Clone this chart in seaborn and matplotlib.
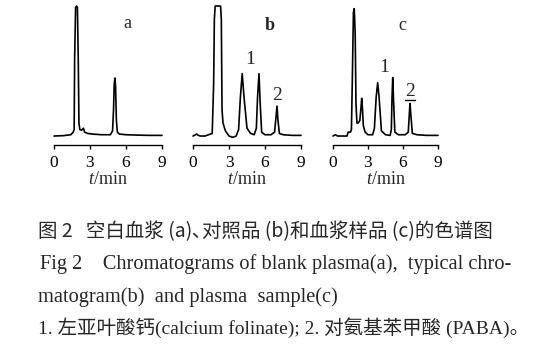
import matplotlib
matplotlib.use("Agg")
import matplotlib.pyplot as plt
from matplotlib.lines import Line2D
import seaborn as sns
import pandas as pd

# ---- data (time in min, signal in arbitrary units) ----
t_a = [0, 0.8, 1.4, 1.5, 1.6, 1.68, 1.72, 1.8, 1.88, 1.95, 2.02, 2.08, 2.15, 2.3, 2.45, 2.55, 2.8,
       3.2, 4.0, 4.7, 4.88, 4.96, 5.02, 5.08, 5.13, 5.2, 5.28, 5.45, 6.0, 7.0, 8.0, 9.0]
y_a = [0, 0.3, 1, 2, 3, 5, 60, 99, 100, 99, 60, 10, 5, 4.5, 6, 3, 2,
       1.5, 1, 1, 4, 20, 40, 44.6, 38, 12, 3, 1.5, 1, 0.7, 0.5, 0.5]

t_b = [0, 0.3, 0.45, 0.6, 1.0, 1.6, 1.72, 1.78, 1.85, 2.3, 2.36, 2.42, 2.5, 2.7, 3.0, 3.3, 3.6,
       3.8, 3.95, 4.1, 4.25, 4.5, 4.8, 5.1, 5.28, 5.38, 5.5, 5.6, 5.72, 6.0, 6.5, 6.8, 6.92, 7.0, 7.08,
       7.2, 7.5, 8.3, 9.0]
y_b = [0, 1.5, 0.5, 0, 0, 2, 40, 90, 100, 100, 90, 20, 10, 4, 0, -1, 0,
       5, 30, 48, 30, 6, 2, 1, 6, 30, 48, 25, 3, 1, 1, 3, 15, 23, 12,
       2, 1, 0.5, 0.5]

t_c = [0, 0.2, 0.4, 0.8, 1.2, 1.3, 1.5, 1.58, 1.65, 1.75, 1.82, 1.9, 1.97, 2.05, 2.15, 2.3, 2.4,
       2.46, 2.52, 2.6, 2.75, 3.0, 3.4, 3.55, 3.7, 3.83, 3.95, 4.15, 4.5, 4.9, 5.0, 5.06, 5.12, 5.18,
       5.3, 5.6, 6.2, 6.45, 6.55, 6.6, 6.66, 6.8, 7.2, 8.0, 9.0]
y_c = [0, 1, 0, 0, 0, 3, 3, 5, 40, 95, 98, 80, 25, 10, 10, 12, 22,
       29, 22, 8, 3, 1, 1, 6, 30, 41, 30, 4, 1, 0.5, 5, 30, 45, 30,
       3, 1, 1, 3, 18, 25, 18, 2, 1, 0.5, 0.5]

ticks = [0, 3, 6, 9]
panel_names = ["a", "b", "c"]
x_label = "$t$/min"

caption_cn = "图 2   空白血浆 (a)､对照品 (b)和血浆样品 (c)的色谱图"
caption_en1 = "Fig 2    Chromatograms of blank plasma(a),  typical chro-"
caption_en2 = "matogram(b)  and plasma  sample(c)"
caption_note = "1. 左亚叶酸钙(calcium folinate); 2. 对氨基苯甲酸 (PABA)。"

sns.set_style("white")
plt.rcParams['font.family'] = ['Liberation Serif', 'Noto Sans CJK SC', 'DejaVu Sans']
plt.rcParams['mathtext.fontset'] = 'custom'
plt.rcParams['mathtext.it'] = 'Liberation Serif:italic'
plt.rcParams['mathtext.rm'] = 'Liberation Serif'

W, H = 548, 355
fig = plt.figure(figsize=(W / 100, H / 100), dpi=100)

def px_axes(x0, x1, ytop, ybot):
    return fig.add_axes([x0 / W, 1 - ybot / H, (x1 - x0) / W, (ybot - ytop) / H])

def ftext(x, y, s, **kw):
    fig.text(x / W, 1 - y / H, s, ha="center", va="center", **kw)

panels = [
    (t_a, y_a, (54, 162)),
    (t_b, y_b, (193, 301)),
    (t_c, y_c, (333, 438)),
]

for i, (tt, yy, (x0, x1)) in enumerate(panels):
    ax = px_axes(x0, x1, 5, 145)
    df = pd.DataFrame({"t": tt, "s": yy})
    sns.lineplot(data=df, x="t", y="s", ax=ax, color="black", lw=1.2,
                 sort=False, estimator=None)
    ax.set_xlim(0, 9)
    ax.set_ylim(-6.9, 100.8)
    for sp in ["left", "right", "top"]:
        ax.spines[sp].set_visible(False)
    ax.spines["bottom"].set_linewidth(1.0)
    ax.spines["bottom"].set_color("black")
    ax.set_yticks([])
    ax.set_ylabel("")
    ax.set_xticks(ticks)
    ax.set_xticklabels([str(v) for v in ticks], fontsize=12.5)
    ax.tick_params(axis="x", direction="out", length=3, width=1, pad=4,
                   bottom=True, colors="black")
    ax.set_xlabel("")
    ax.patch.set_alpha(0)
    for l in ax.get_lines():
        l.set_clip_on(False)
    ftext((x0 + x1) / 2, 179, x_label, fontsize=13)

# panel letters & peak labels (in figure pixels)
ftext(127, 24, panel_names[0], fontsize=13)
ftext(270, 25, panel_names[1], fontsize=13, fontweight="bold")
ftext(402, 25, panel_names[2], fontsize=13)
ftext(250, 60, "1", fontsize=14)
ftext(277, 96, "2", fontsize=14)
ftext(384, 67, "1", fontsize=14)
ftext(410, 91, "2", fontsize=14)
fig.add_artist(Line2D([405 / W, 415 / W], [1 - 100 / H, 1 - 100 / H],
                      color="black", lw=1))

# captions
fig.text(38 / W, 1 - 232 / H, caption_cn, ha="left", va="center", fontsize=14,
         family=['Noto Sans CJK SC', 'DejaVu Sans'])
fig.text(40 / W, 1 - 264 / H, caption_en1, ha="left", va="center", fontsize=14.7)
fig.text(38 / W, 1 - 297 / H, caption_en2, ha="left", va="center", fontsize=14.7)
fig.text(38 / W, 1 - 328 / H, caption_note, ha="left", va="center", fontsize=14,
         family=['Liberation Serif', 'Noto Sans CJK SC'])

fig.savefig("out.png", dpi=100)
